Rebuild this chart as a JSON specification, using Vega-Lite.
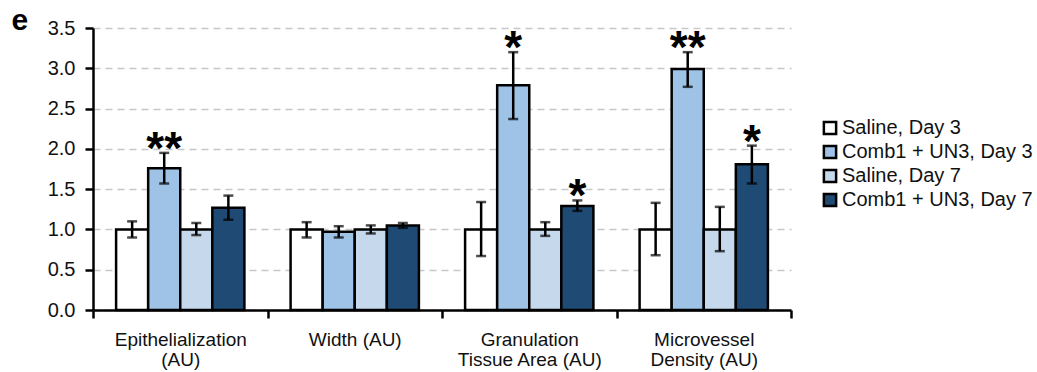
{
  "$schema": "https://vega.github.io/schema/vega-lite/v6.json",
  "width": 698,
  "height": 282,
  "autosize": "none",
  "padding": {"left": 93, "top": 28, "right": 246, "bottom": 62},
  "background": "white",
  "config": {
    "font": "Liberation Sans",
    "view": {"stroke": null},
    "axis": {"labelFont": "Liberation Sans", "labelColor": "#111", "domainColor": "black", "tickColor": "black"}
  },
  "data": {"values": [
    {"measure": "Epithelialization (AU)", "group": "Saline, Day 3", "mean": 1.0, "lo": 0.9, "hi": 1.1, "sig": ""},
    {"measure": "Epithelialization (AU)", "group": "Comb1 + UN3, Day 3", "mean": 1.76, "lo": 1.57, "hi": 1.95, "sig": "**"},
    {"measure": "Epithelialization (AU)", "group": "Saline, Day 7", "mean": 1.0, "lo": 0.93, "hi": 1.08, "sig": ""},
    {"measure": "Epithelialization (AU)", "group": "Comb1 + UN3, Day 7", "mean": 1.27, "lo": 1.12, "hi": 1.42, "sig": ""},
    {"measure": "Width (AU)", "group": "Saline, Day 3", "mean": 1.0, "lo": 0.9, "hi": 1.09, "sig": ""},
    {"measure": "Width (AU)", "group": "Comb1 + UN3, Day 3", "mean": 0.97, "lo": 0.9, "hi": 1.04, "sig": ""},
    {"measure": "Width (AU)", "group": "Saline, Day 7", "mean": 1.0, "lo": 0.95, "hi": 1.05, "sig": ""},
    {"measure": "Width (AU)", "group": "Comb1 + UN3, Day 7", "mean": 1.05, "lo": 1.02, "hi": 1.08, "sig": ""},
    {"measure": "Granulation Tissue Area (AU)", "group": "Saline, Day 3", "mean": 1.0, "lo": 0.67, "hi": 1.34, "sig": ""},
    {"measure": "Granulation Tissue Area (AU)", "group": "Comb1 + UN3, Day 3", "mean": 2.79, "lo": 2.37, "hi": 3.2, "sig": "*"},
    {"measure": "Granulation Tissue Area (AU)", "group": "Saline, Day 7", "mean": 1.0, "lo": 0.92, "hi": 1.09, "sig": ""},
    {"measure": "Granulation Tissue Area (AU)", "group": "Comb1 + UN3, Day 7", "mean": 1.29, "lo": 1.23, "hi": 1.36, "sig": "*"},
    {"measure": "Microvessel Density (AU)", "group": "Saline, Day 3", "mean": 1.0, "lo": 0.68, "hi": 1.33, "sig": ""},
    {"measure": "Microvessel Density (AU)", "group": "Comb1 + UN3, Day 3", "mean": 2.99, "lo": 2.77, "hi": 3.2, "sig": "**"},
    {"measure": "Microvessel Density (AU)", "group": "Saline, Day 7", "mean": 1.0, "lo": 0.73, "hi": 1.28, "sig": ""},
    {"measure": "Microvessel Density (AU)", "group": "Comb1 + UN3, Day 7", "mean": 1.81, "lo": 1.57, "hi": 2.04, "sig": "*"}
  ]},
  "encoding": {
    "x": {"field": "measure", "type": "nominal", "sort": null,
      "scale": {"paddingInner": 0, "paddingOuter": 0},
      "axis": {"title": null, "labelAngle": 0, "tickBand": "extent", "domainWidth": 2.5, "tickWidth": 2.5, "tickSize": 8, "labelFontSize": 19, "labelPadding": 12, "labelLineHeight": 20, "labelBaseline": "top",
        "labelExpr": "datum.value == 'Epithelialization (AU)' ? ['Epithelialization', '(AU)'] : datum.value == 'Granulation Tissue Area (AU)' ? ['Granulation', 'Tissue Area (AU)'] : datum.value == 'Microvessel Density (AU)' ? ['Microvessel', 'Density (AU)'] : datum.value"}},
    "xOffset": {"field": "group", "type": "nominal",
      "scale": {"domain": ["Saline, Day 3", "Comb1 + UN3, Day 3", "Saline, Day 7", "Comb1 + UN3, Day 7"], "paddingInner": 0, "paddingOuter": 0.72}}
  },
  "layer": [
    {
      "mark": {"type": "bar", "stroke": "black", "strokeWidth": 2.5},
      "encoding": {
        "y": {"field": "mean", "type": "quantitative", "scale": {"domain": [0, 3.5]},
          "axis": {"title": "e", "titleAngle": 0, "titleX": -82, "titleY": 1, "titleAlign": "left", "titleBaseline": "alphabetic", "titleFontSize": 30, "titleFontWeight": "bold", "titleFont": "Liberation Sans", "titleColor": "black",
            "values": [0, 0.5, 1, 1.5, 2, 2.5, 3, 3.5], "format": ".1f", "labelFontSize": 20, "labelPadding": 10, "tickSize": 8, "tickWidth": 2.5, "domainWidth": 2.5,
            "grid": true, "gridColor": "#c8c8c8", "gridDash": [7, 5], "gridWidth": 1.5}},
        "color": {"field": "group", "type": "nominal",
          "scale": {"domain": ["Saline, Day 3", "Comb1 + UN3, Day 3", "Saline, Day 7", "Comb1 + UN3, Day 7"], "range": ["#ffffff", "#9fc3e7", "#c5d8ec", "#1f4a74"]},
          "legend": {"title": null, "orient": "none", "legendX": 727, "legendY": 90, "padding": 0, "symbolType": "square", "symbolSize": 150, "symbolStrokeColor": "black", "symbolStrokeWidth": 2.5, "symbolOpacity": 1, "labelFontSize": 20, "labelColor": "#111", "labelFont": "Liberation Sans", "labelOffset": 2, "rowPadding": 0, "labelLimit": 300}}
      }
    },
    {
      "mark": {"type": "rule", "color": "black", "strokeWidth": 2.5},
      "encoding": {"y": {"field": "lo", "type": "quantitative"}, "y2": {"field": "hi"}}
    },
    {
      "mark": {"type": "tick", "color": "black", "thickness": 2.5, "size": 10, "orient": "horizontal"},
      "encoding": {"y": {"field": "lo", "type": "quantitative"}}
    },
    {
      "mark": {"type": "tick", "color": "black", "thickness": 2.5, "size": 10, "orient": "horizontal"},
      "encoding": {"y": {"field": "hi", "type": "quantitative"}}
    },
    {
      "mark": {"type": "text", "color": "black", "fontSize": 46, "fontWeight": "bold", "baseline": "alphabetic", "dy": 11, "font": "Liberation Sans"},
      "encoding": {"y": {"field": "hi", "type": "quantitative"}, "text": {"field": "sig"}}
    }
  ]
}
